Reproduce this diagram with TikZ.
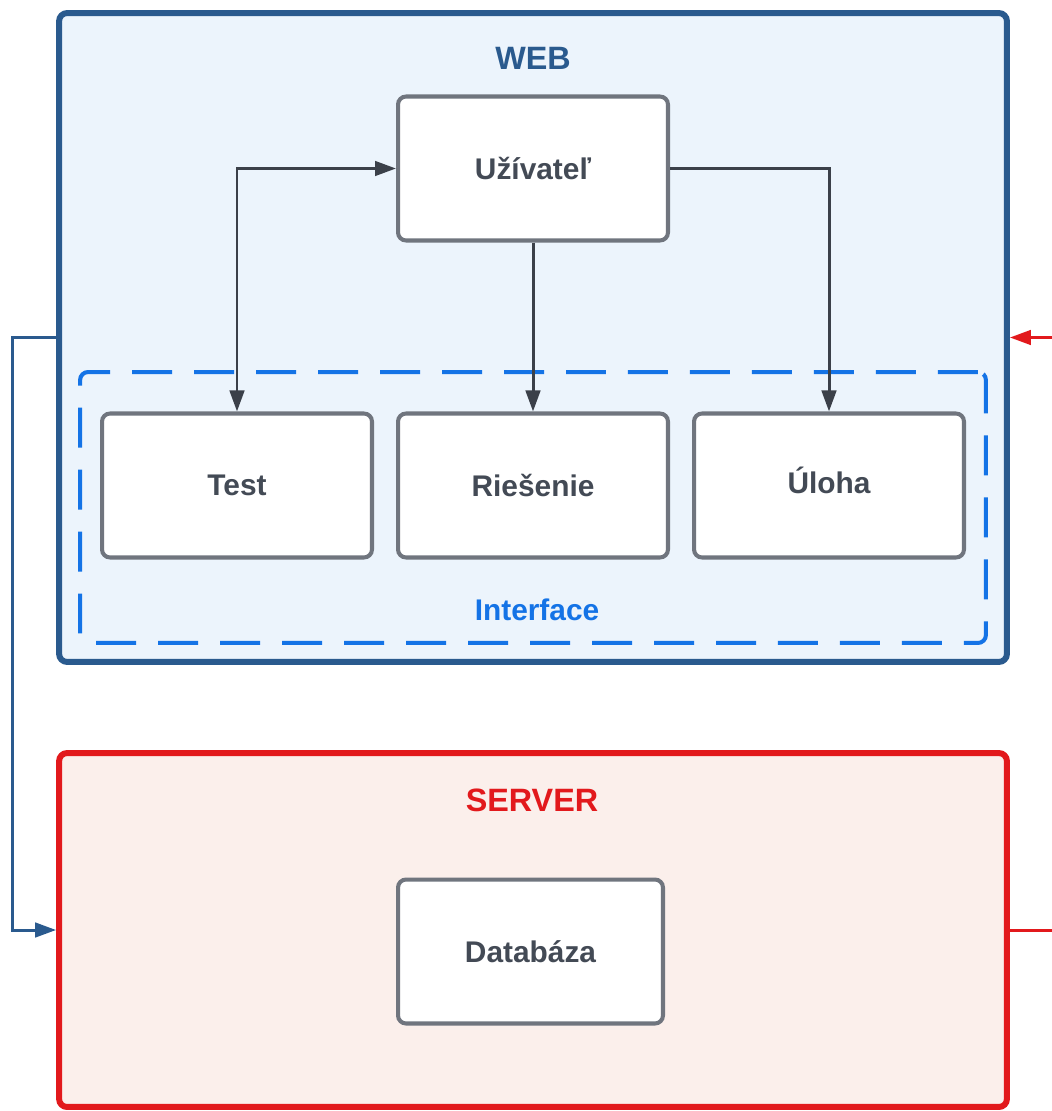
\documentclass[tikz,border=0pt]{standalone}
\usepackage{fontspec}
\setmainfont{Liberation Sans}
\usetikzlibrary{arrows.meta}

\definecolor{webline}{HTML}{2A5A8E}
\definecolor{webfill}{HTML}{ECF4FC}
\definecolor{srvline}{HTML}{E2191C}
\definecolor{srvfill}{HTML}{FBEFEB}
\definecolor{ifcol}{HTML}{1473E6}
\definecolor{boxline}{HTML}{70757E}
\definecolor{boxtext}{HTML}{434A55}
\definecolor{linkcol}{HTML}{3B4049}

\begin{document}
\begin{tikzpicture}[
    x=0.02cm, y=-0.02cm,
    >={Triangle[length=4.2mm,width=2.9mm]},
    font=\bfseries\fontsize{17}{20}\selectfont,
    box/.style={draw=boxline, fill=white, text=boxtext, line width=2.3pt,
                rounded corners=0.16cm, minimum width=5.4cm, minimum height=2.88cm},
    zone/.style={line width=3.4pt, rounded corners=0.16cm, minimum width=18.96cm},
    title/.style={font=\bfseries\fontsize{18.4}{22}\selectfont},
    link/.style={->, draw=linkcol, line width=1.7pt}
]
  \useasboundingbox (0,0) rectangle (1051,1111);

  %--- web part ---
  \node[zone, draw=webline, fill=webfill, minimum height=12.98cm] (web) at (533,337.5) {};
  \node[title, text=webline] (weblbl) at (533,58) {WEB};
  \node[draw=ifcol, line width=2.3pt, dash pattern=on 0.8cm off 0.44cm,
        rounded corners=0.16cm, minimum width=18.12cm, minimum height=5.42cm] (iface) at (533,507.5) {};
  \node[text=ifcol] (ifacelbl) at (537,610) {Interface};

  \node[box] (user)     at (533,168.5) {Užívateľ};
  \node[box] (test)     at (237,485.5) {Test};
  \node[box] (riesenie) at (533,485.5) {Riešenie};
  \node[box, text height=16pt, text depth=7.2pt] (uloha) at (829,485.5) {Úloha};

  %--- server part ---
  \node[zone, draw=srvline, fill=srvfill, minimum height=7.08cm] (server) at (533,930) {};
  \node[title, text=srvline] (srvlbl) at (532,800) {SERVER};
  \node[box, minimum width=5.3cm] (db) at (530.5,951.5) {Databáza};

  %--- edges ---
  \draw[link, <->] (test.north) |- (user.west);
  \draw[link] (user.south) -- (riesenie.north);
  \draw[link] (user.east) -| (uloha.north);

  \draw[->, draw=webline, line width=1.7pt] (web.west) -- ++(-44,0) |- (server.west);
  \coordinate (rside) at (1075,337.5);  % runs past the page edge
  \draw[->, draw=srvline, line width=1.7pt] (server.east) -| (rside) -- (web.east);
\end{tikzpicture}
\end{document}
